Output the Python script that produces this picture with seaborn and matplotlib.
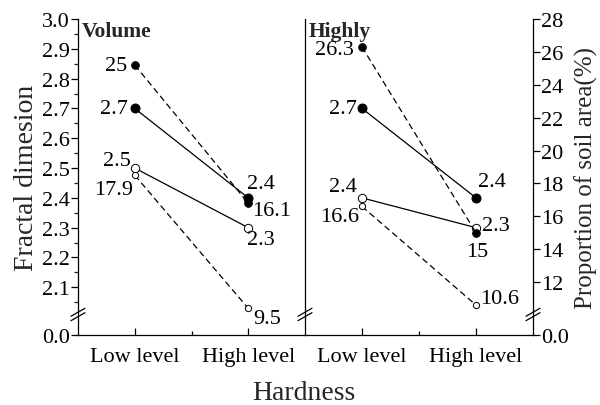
import seaborn as sns
import matplotlib.pyplot as plt
from matplotlib.ticker import FixedLocator

levels = ["Low level", "High level"]
x_pos = [1, 3]

# Volume panel
vol_fd_filled = [2.7, 2.4]
vol_fd_open = [2.5, 2.3]
vol_pa_filled = [25.2, 16.8]
vol_pa_open = [18.5, 10.4]
vol_fd_filled_lab = ["2.7", "2.4"]
vol_fd_open_lab = ["2.5", "2.3"]
vol_pa_filled_lab = ["25", "16.1"]
vol_pa_open_lab = ["17.9", "9.5"]

# Highly panel
hi_fd_filled = [2.7, 2.4]
hi_fd_open = [2.4, 2.3]
hi_pa_filled = [26.3, 15.0]
hi_pa_open = [16.6, 10.6]
hi_fd_filled_lab = ["2.7", "2.4"]
hi_fd_open_lab = ["2.4", "2.3"]
hi_pa_filled_lab = ["26.3", "15"]
hi_pa_open_lab = ["16.6", "10.6"]

fd_ticks = [2.1, 2.2, 2.3, 2.4, 2.5, 2.6, 2.7, 2.8, 2.9, 3.0]
pa_ticks = [12, 14, 16, 18, 20, 22, 24, 26, 28]

sns.set_style("ticks")
plt.rcParams['font.family'] = ['Liberation Serif', 'DejaVu Serif']

FD_LIM = (1.94, 3.0)
PA_LIM = (8.78, 28.0)
FS = 16

fig = plt.figure(figsize=(6, 4.06), dpi=100)
W, H = 600, 406
ax1 = fig.add_axes([78 / W, 1 - 336 / H, 227 / W, 316 / H])
ax2 = fig.add_axes([305 / W, 1 - 336 / H, 228 / W, 316 / H])
ax1b = ax1.twinx()
ax2b = ax2.twinx()


def draw(ax, y, filled, dashed, ms):
    sns.lineplot(x=x_pos, y=y, ax=ax, color="black", lw=0.9,
                 linestyle=(0, (5, 3)) if dashed else "-",
                 marker="o", markersize=ms,
                 markerfacecolor="black" if filled else "white",
                 markeredgecolor="black", markeredgewidth=0.7)


def label(ax, x, y, txt, dx, dy, ha="left"):
    # offsets given in pixels
    ax.annotate(txt, (x, y), xytext=(dx * 0.72, dy * 0.72),
                textcoords="offset points", ha=ha, va="center",
                fontsize=FS, color="black")


# Volume
draw(ax1, vol_fd_filled, True, False, 6.5)
draw(ax1, vol_fd_open, False, False, 6)
draw(ax1b, vol_pa_filled, True, True, 5.5)
draw(ax1b, vol_pa_open, False, True, 4.5)

label(ax1, x_pos[0], vol_fd_filled[0], vol_fd_filled_lab[0], -7, 0, "right")
label(ax1, x_pos[1], vol_fd_filled[1], vol_fd_filled_lab[1], -1, 14)
label(ax1, x_pos[0], vol_fd_open[0], vol_fd_open_lab[0], -4, 8, "right")
label(ax1, x_pos[1], vol_fd_open[1], vol_fd_open_lab[1], -1, -12)
label(ax1b, x_pos[0], vol_pa_filled[0], vol_pa_filled_lab[0], -7, 0, "right")
label(ax1b, x_pos[1], vol_pa_filled[1], vol_pa_filled_lab[1], 4, -7)
label(ax1b, x_pos[0], vol_pa_open[0], vol_pa_open_lab[0], -2, -14, "right")
label(ax1b, x_pos[1], vol_pa_open[1], vol_pa_open_lab[1], 5, -10)

# Highly
draw(ax2, hi_fd_filled, True, False, 6.5)
draw(ax2, hi_fd_open, False, False, 6)
draw(ax2b, hi_pa_filled, True, True, 5.5)
draw(ax2b, hi_pa_open, False, True, 4.5)

label(ax2, x_pos[0], hi_fd_filled[0], hi_fd_filled_lab[0], -5, 0, "right")
label(ax2, x_pos[1], hi_fd_filled[1], hi_fd_filled_lab[1], 2, 16)
label(ax2, x_pos[0], hi_fd_open[0], hi_fd_open_lab[0], -5, 11, "right")
label(ax2, x_pos[1], hi_fd_open[1], hi_fd_open_lab[1], 6, 2)
label(ax2b, x_pos[0], hi_pa_filled[0], hi_pa_filled_lab[0], -8, -3, "right")
label(ax2b, x_pos[1], hi_pa_filled[1], hi_pa_filled_lab[1], 1, -19, "center")
label(ax2b, x_pos[0], hi_pa_open[0], hi_pa_open_lab[0], -3, -10, "right")
label(ax2b, x_pos[1], hi_pa_open[1], hi_pa_open_lab[1], 4, 7)

# axes styling
for ax in (ax1, ax2, ax1b, ax2b):
    ax.set_xlim(0, 4)
    ax.set_xlabel("")
    ax.set_ylabel("")
    for s in ax.spines.values():
        s.set_visible(False)
        s.set_linewidth(0.9)
        s.set_color("black")

for ax in (ax1, ax2):
    ax.set_ylim(*FD_LIM)
    ax.spines["bottom"].set_visible(True)
    ax.spines["left"].set_visible(True)
    ax.set_xticks(x_pos)
    ax.set_xticklabels(levels, fontsize=FS)
    ax.xaxis.set_minor_locator(FixedLocator([2]))
    ax.tick_params(axis="x", which="both", direction="in", length=5,
                   width=0.9, pad=9, colors="black")
    ax.tick_params(axis="x", which="minor", length=3)

for ax in (ax1b, ax2b):
    ax.set_ylim(*PA_LIM)
    ax.set_yticks([])

ax1.set_yticks([FD_LIM[0]] + fd_ticks)
ax1.set_yticklabels(["0.0"] + [f"{v:.1f}" for v in fd_ticks], fontsize=FS)
ax1.yaxis.set_minor_locator(FixedLocator([v - 0.05 for v in fd_ticks]))
ax1.tick_params(axis="y", which="major", direction="out", length=5,
                width=0.9, pad=1, colors="black")
ax1.tick_params(axis="y", which="minor", direction="out", length=3,
                width=0.9)

ax2.set_yticks([])
ax2.yaxis.set_minor_locator(FixedLocator([]))

ax2b.spines["right"].set_visible(True)
ax2b.set_yticks([PA_LIM[0]] + pa_ticks)
ax2b.set_yticklabels(["0.0"] + [str(v) for v in pa_ticks], fontsize=FS)
ax2b.tick_params(axis="y", which="major", direction="out", length=5,
                 width=0.9, pad=1, colors="black")

ax1.set_ylabel("Fractal dimesion", fontsize=20, labelpad=2)
ax2b.set_ylabel("Proportion of soil area(%)", fontsize=18, labelpad=4)
fig.text(0.507, 0.032, "Hardness", ha="center", va="center", fontsize=20)

ax1.text(0.015, 0.995, "Volume", transform=ax1.transAxes, ha="left",
         va="top", fontsize=15.5, fontweight="bold")
ax2.text(0.015, 0.995, "Highly", transform=ax2.transAxes, ha="left",
         va="top", fontsize=15.5, fontweight="bold")

# axis break marks
for ax, xa in ((ax1, 0.0), (ax2, 0.0), (ax2b, 1.0)):
    aw = ax.get_position().width * W
    ah = ax.get_position().height * H
    dx, dy = 7 / aw, 4 / ah
    for yc in (0.058, 0.072):
        ax.plot([xa - dx, xa + dx], [yc - dy, yc + dy], color="black",
                lw=0.9, transform=ax.transAxes, clip_on=False)

fig.savefig("out.png", dpi=100)
